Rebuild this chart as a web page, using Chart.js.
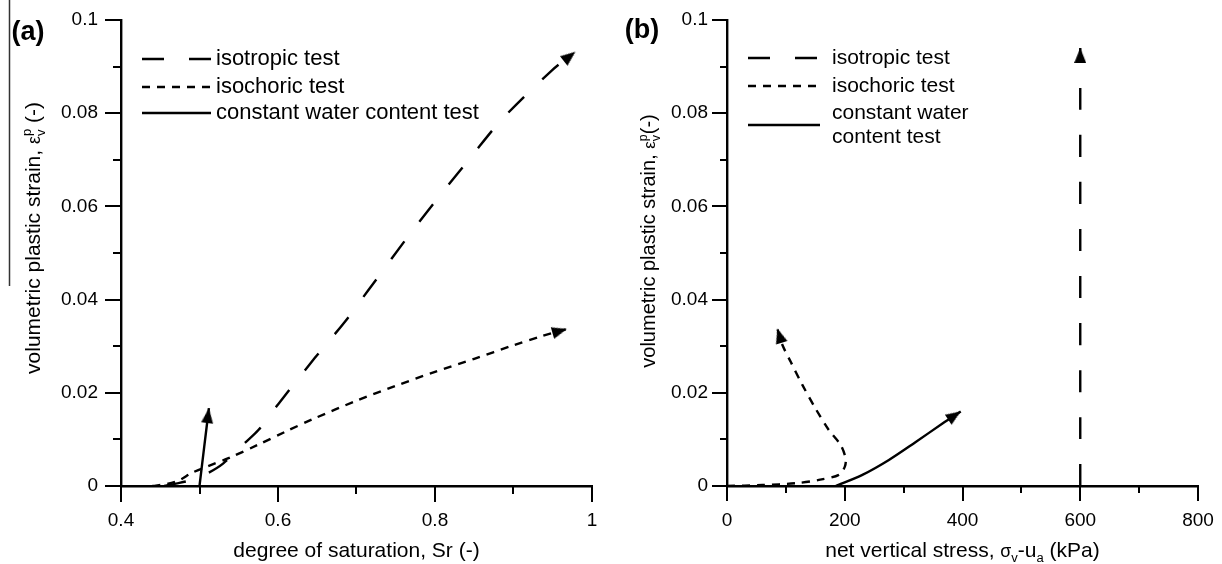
<!DOCTYPE html>
<html>
<head>
<meta charset="utf-8">
<script src="https://cdn.jsdelivr.net/npm/chart.js@4.4.0/dist/chart.umd.min.js"></script>
<style>
  html, body { margin: 0; padding: 0; background: #fff; }
  .panel { position: absolute; top: 0; width: 611px; height: 564px; }
  #pa { left: 0; }
  #pb { left: 611px; }
</style>
</head>
<body>
<div class="panel" id="pa"><canvas id="chart-a"></canvas></div>
<div class="panel" id="pb"><canvas id="chart-b"></canvas></div>
<script>
// (a) deformación vs grado de saturación
const srIsotropico   = [0.455, 0.47, 0.49, 0.51, 0.53, 0.555, 0.575, 0.60, 0.647, 0.685, 0.715, 0.775, 0.85, 0.887, 0.949, 0.979];
const epsIsotropicoA = [0, 0.0005, 0.0013, 0.0027, 0.0048, 0.0088, 0.012, 0.0175, 0.0275, 0.0352, 0.042, 0.0556, 0.0715, 0.079, 0.0892, 0.0932];
const srIsocorico    = [0.44, 0.46, 0.475, 0.49, 0.51, 0.54, 0.574, 0.61, 0.645, 0.70, 0.75, 0.80, 0.85, 0.90, 0.935, 0.968];
const epsIsocoricoA  = [0, 0.0005, 0.0013, 0.0028, 0.0042, 0.0062, 0.0088, 0.0117, 0.0144, 0.0183, 0.0215, 0.0245, 0.0273, 0.0302, 0.0321, 0.0337];
const srHumedad      = [0.5, 0.506, 0.512];
const epsHumedadA    = [0, 0.0084, 0.0167];

// (b) deformación vs tensión vertical neta
const sigIsotropico  = [600, 600];
const epsIsotropicoB = [0, 0.094];
const sigIsocorico   = [0, 60, 117, 156, 190, 200, 201.5, 193, 173, 150, 128, 108, 94, 85.5];
const epsIsocoricoB  = [0, 0.0002, 0.0006, 0.0013, 0.0024, 0.0041, 0.0059, 0.0088, 0.012, 0.0167, 0.0217, 0.0267, 0.0303, 0.0338];
const sigHumedad     = [184.6, 230, 275, 320, 366, 397];
const epsHumedadB    = [0, 0.0024, 0.0056, 0.0094, 0.0134, 0.016];

// etiquetas de ejes
const yTickLabels  = ['0', '0.02', '0.04', '0.06', '0.08', '0.1'];
const xTickLabelsA = ['0.4', '0.6', '0.8', '1'];
const xTickLabelsB = ['0', '200', '400', '600', '800'];
const leyendaA = ['isotropic test', 'isochoric test', 'constant water content test'];
const leyendaB = ['isotropic test', 'isochoric test', 'constant water\ncontent test'];

const tituloXA = [['degree of saturation, Sr (-)']];
const tituloYA = [['volumetric plastic strain, '], ['ε', 'sym'], ['v', 'sub'], ['p', 'sup'], [' (-)']];
const tituloXB = [['net vertical stress, '], ['σ', 'sym'], ['v', 'sub'], ['-u'], ['a', 'sub'], [' (kPa)']];
const tituloYB = [['volumetric plastic strain, '], ['ε', 'sym'], ['v', 'sub'], ['p', 'sup'], ['(-)']];

const FUENTE = '"Liberation Sans", Arial, sans-serif';
const TINTA = '#000';
const DASH_LARGO = [22, 25];
const DASH_CORTO = [8, 7];

Chart.defaults.font.family = FUENTE;
Chart.defaults.color = TINTA;

// punta de flecha (la punta queda en el centro del canvas)
function crearFlecha(w, h) {
    const c = document.createElement('canvas');
    c.width = w; c.height = h * 2;
    const g = c.getContext('2d');
    g.fillStyle = TINTA;
    g.beginPath();
    g.moveTo(w / 2, h);
    g.lineTo(w, 2 * h);
    g.lineTo(0, 2 * h);
    g.closePath();
    g.fill();
    return c;
}
const FLECHA = crearFlecha(12, 15);

function angulo(c, pts) {
    const i = c.dataIndex;
    if (i === undefined || i < 1) return 0;
    const sx = c.chart.scales.x, sy = c.chart.scales.y;
    const dx = sx.getPixelForValue(pts[i].x) - sx.getPixelForValue(pts[i - 1].x);
    const dy = sy.getPixelForValue(pts[i].y) - sy.getPixelForValue(pts[i - 1].y);
    return Math.atan2(dx, -dy) * 180 / Math.PI;
}

function serie(label, xs, ys, dash) {
    const pts = xs.map((x, i) => ({ x, y: ys[i] }));
    const ult = pts.length - 1;
    return {
        label,
        data: pts,
        showLine: true,
        borderColor: TINTA,
        borderWidth: 2.4,
        borderDash: dash,
        tension: 0.3,
        fill: false,
        pointRadius: c => c.dataIndex === ult ? 2 : 0,
        pointStyle: c => c.dataIndex === ult ? FLECHA : 'circle',
        pointRotation: c => angulo(c, pts),
        pointBackgroundColor: TINTA,
        pointBorderWidth: 0,
    };
}

// texto con subíndices / superíndices
function textoRico(ctx, partes, size, x, y, rotar) {
    const tam = m => (m === 'sub' || m === 'sup') ? size * 0.62 : m === 'sym' ? size * 0.85 : size;
    const desp = m => m === 'sub' ? size * 0.25 : m === 'sup' ? -size * 0.42 : 0;
    let ancho = 0, prevIni = 0, prevW = 0, prevM = '';
    const pos = [];
    partes.forEach(([t, m = '']) => {
        ctx.font = `${tam(m)}px ${FUENTE}`;
        const w = ctx.measureText(t).width;
        let ini = ancho;
        if (m === 'sup' && prevM === 'sub') {
            ini = prevIni;
            ancho = Math.max(prevIni + prevW, ini + w);
        } else {
            ancho = ini + w;
        }
        pos.push([t, m, ini]);
        prevIni = ini; prevW = w; prevM = m;
    });
    ctx.save();
    ctx.translate(x, y);
    if (rotar) ctx.rotate(-Math.PI / 2);
    ctx.fillStyle = TINTA;
    ctx.textBaseline = 'alphabetic';
    ctx.textAlign = 'left';
    pos.forEach(([t, m, ini]) => {
        ctx.font = `${tam(m)}px ${FUENTE}`;
        ctx.fillText(t, ini - ancho / 2, desp(m));
    });
    ctx.restore();
}

// marcas de los ejes (mayores y menores), títulos, leyenda y rótulo del panel
const decoracion = {
    id: 'decoracion',
    afterDraw(chart, args, o) {
        const { ctx, chartArea: a } = chart;
        const sx = chart.scales.x, sy = chart.scales.y;
        ctx.save();
        ctx.strokeStyle = TINTA;
        ctx.lineWidth = 2;
        ctx.beginPath();
        sx.ticks.forEach((t, i) => {
            const p = Math.round(sx.getPixelForValue(t.value));
            const L = i % 2 === 0 ? o.largo : o.corto;
            ctx.moveTo(p, a.bottom); ctx.lineTo(p, a.bottom + L);
        });
        sy.ticks.forEach((t, i) => {
            const p = Math.round(sy.getPixelForValue(t.value));
            const L = i % 2 === 0 ? o.largo : o.corto;
            ctx.moveTo(a.left, p); ctx.lineTo(a.left - L, p);
        });
        ctx.stroke();

        // títulos
        textoRico(ctx, o.tituloX, o.sizeX, (a.left + a.right) / 2, o.baseX, false);
        textoRico(ctx, o.tituloY, o.sizeY, o.baseY, o.centroY, true);

        // leyenda
        o.filas.forEach((f, i) => {
            const ds = chart.data.datasets[i];
            ctx.lineWidth = 2.4;
            ctx.setLineDash(ds.borderDash || []);
            ctx.beginPath();
            ctx.moveTo(o.ley.x0, f.linea);
            ctx.lineTo(o.ley.x1, f.linea);
            ctx.stroke();
            ctx.setLineDash([]);
            ctx.font = `${o.ley.size}px ${FUENTE}`;
            ctx.fillStyle = TINTA;
            ctx.textBaseline = 'middle';
            ctx.textAlign = 'left';
            ds.label.split('\n').forEach((t, j) => ctx.fillText(t, o.ley.xt, f.texto[j]));
        });

        // rótulo (a)/(b)
        ctx.font = `bold 27px ${FUENTE}`;
        ctx.textBaseline = 'alphabetic';
        ctx.textAlign = 'center';
        ctx.fillText(o.rotulo.texto, o.rotulo.x, o.rotulo.y);

        if (o.rayita) {
            ctx.strokeStyle = '#333';
            ctx.lineWidth = 1.5;
            ctx.beginPath();
            ctx.moveTo(9.5, 0); ctx.lineTo(9.5, 286);
            ctx.stroke();
        }
        ctx.restore();
    }
};

function ejes(xMin, xMax, xStep, xLabels, yWidth, yPad) {
    return {
        x: {
            type: 'linear', min: xMin, max: xMax,
            afterFit: s => { s.height = 78; s.paddingLeft = 0; s.paddingRight = 0; },
            border: { display: true, width: 2.4, color: TINTA },
            grid: { display: true, drawOnChartArea: false, drawTicks: false },
            ticks: {
                stepSize: xStep, autoSkip: false, maxRotation: 0, padding: 23,
                font: { size: 19 }, color: TINTA,
                callback: (v, i) => i % 2 === 0 ? xLabels[i / 2] : ''
            }
        },
        y: {
            type: 'linear', min: 0, max: 0.1,
            afterFit: s => { s.width = yWidth; s.paddingTop = 0; s.paddingBottom = 0; },
            border: { display: true, width: 2.4, color: TINTA },
            grid: { display: true, drawOnChartArea: false, drawTicks: false },
            ticks: {
                stepSize: 0.01, autoSkip: false, padding: yPad,
                font: { size: 19 }, color: TINTA,
                callback: (v, i) => i % 2 === 0 ? yTickLabels[i / 2] : ''
            }
        }
    };
}

const baseOptions = {
    responsive: true,
    maintainAspectRatio: false,
    animation: false,
    events: [],
};

// Panel (a)
new Chart(document.getElementById('chart-a'), {
    type: 'scatter',
    data: {
        datasets: [
            serie(leyendaA[0], srIsotropico, epsIsotropicoA, DASH_LARGO),
            serie(leyendaA[1], srIsocorico, epsIsocoricoA, DASH_CORTO),
            serie(leyendaA[2], srHumedad, epsHumedadA, []),
        ]
    },
    options: {
        ...baseOptions,
        layout: { padding: { left: 0, right: 19, top: 20, bottom: 0 } },
        scales: ejes(0.4, 1, 0.1, xTickLabelsA, 121, 23),
        plugins: {
            legend: { display: false },
            tooltip: { enabled: false },
            decoracion: {
                largo: 16, corto: 8,
                tituloX: tituloXA, sizeX: 21, baseX: 557,
                tituloY: tituloYA, sizeY: 21, baseY: 40, centroY: 238,
                ley: { x0: 142, x1: 211, xt: 216, size: 22 },
                filas: [{ linea: 59, texto: [59] }, { linea: 87, texto: [87] }, { linea: 113, texto: [113] }],
                rotulo: { texto: '(a)', x: 28, y: 40 },
                rayita: true
            }
        }
    },
    plugins: [decoracion]
});

// Panel (b)
new Chart(document.getElementById('chart-b'), {
    type: 'scatter',
    data: {
        datasets: [
            serie(leyendaB[0], sigIsotropico, epsIsotropicoB, DASH_LARGO),
            serie(leyendaB[1], sigIsocorico, epsIsocoricoB, DASH_CORTO),
            serie(leyendaB[2], sigHumedad, epsHumedadB, []),
        ]
    },
    options: {
        ...baseOptions,
        layout: { padding: { left: 0, right: 24, top: 20, bottom: 0 } },
        scales: ejes(0, 800, 100, xTickLabelsB, 116, 19),
        plugins: {
            legend: { display: false },
            tooltip: { enabled: false },
            decoracion: {
                largo: 15, corto: 7,
                tituloX: tituloXB, sizeX: 21, baseX: 557,
                tituloY: tituloYB, sizeY: 20, baseY: 44, centroY: 241,
                ley: { x0: 137, x1: 209, xt: 221, size: 21 },
                filas: [{ linea: 58, texto: [58] }, { linea: 86, texto: [86] }, { linea: 125, texto: [113, 137] }],
                rotulo: { texto: '(b)', x: 31, y: 38 },
                rayita: false
            }
        }
    },
    plugins: [decoracion]
});
</script>
</body>
</html>
